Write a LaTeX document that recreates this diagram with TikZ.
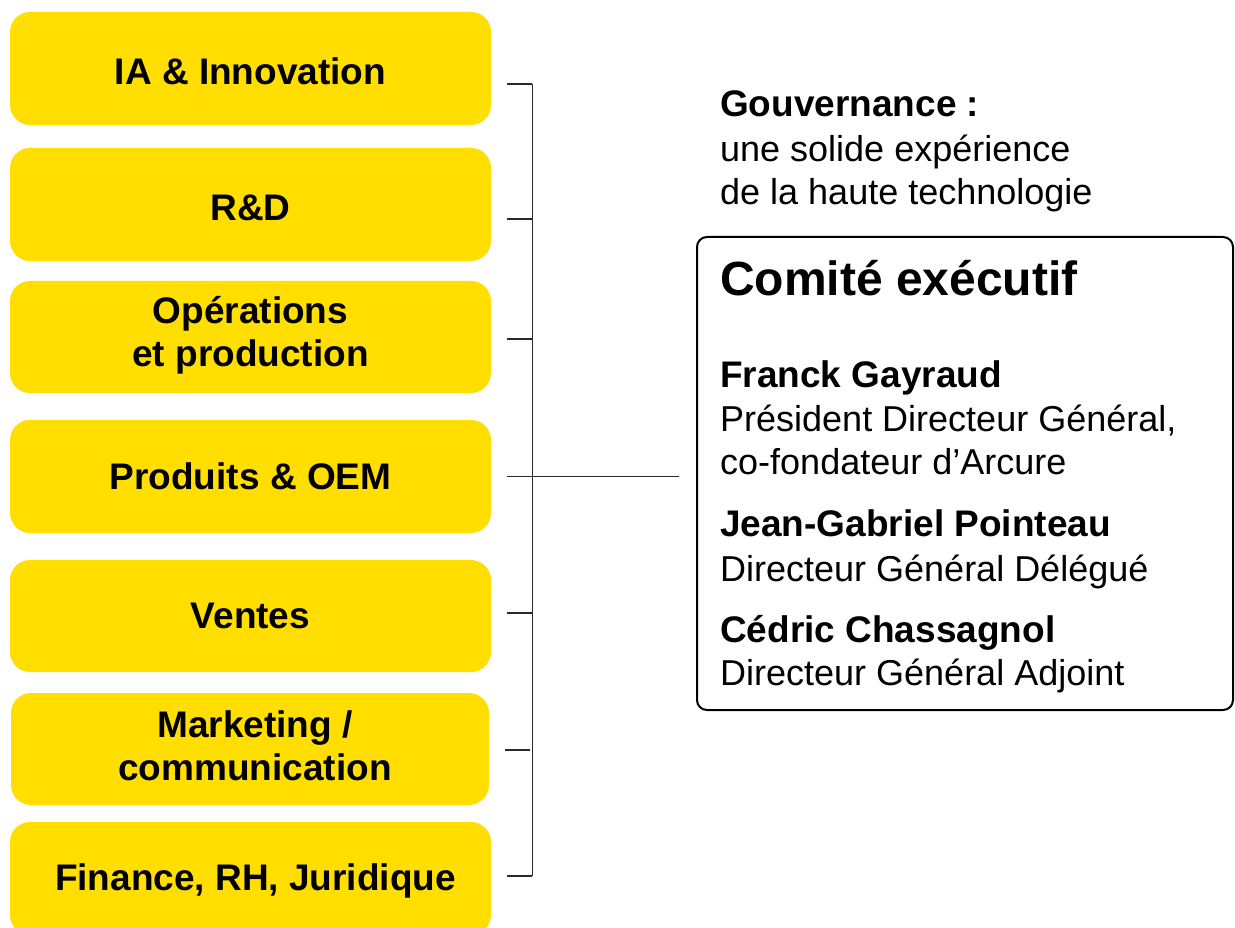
\documentclass[tikz,border=0pt]{standalone}
\usepackage{fontspec}
\setmainfont{Liberation Sans}
\definecolor{ybox}{HTML}{FFDE00}
\definecolor{lineg}{HTML}{2A2A2A}
\newcommand{\mvtxt}[3]{\raisebox{#1}[\height][\depth]{\hspace*{#2}#3}}
\begin{document}
\begin{tikzpicture}[x=1pt,y=-1pt,
  dept/.style={fill=ybox, rounded corners=20pt, minimum width=481pt, minimum height=113pt,
    inner sep=0pt, align=center, font=\fontsize{37}{43}\selectfont\bfseries},
  conn/.style={draw=lineg, line width=1.4pt},
  txt/.style={anchor=base west, inner sep=0pt, font=\fontsize{36}{43}\selectfont},
  btxt/.style={anchor=base west, inner sep=0pt, font=\fontsize{37}{43}\selectfont\bfseries},
  execbox/.style={draw=black, line width=2pt, rounded corners=10pt, minimum width=536pt,
    minimum height=473pt, inner sep=0pt}
]
\useasboundingbox (0,0) rectangle (1235,928);
\clip (0,0) rectangle (1235,928);

% departments
\node[dept] (b1) at (250.5,68.5) {\mvtxt{-3pt}{0pt}{IA \& Innovation}};
\node[dept] (b2) at (250.5,204.5) {\mvtxt{-3pt}{0pt}{R\&D}};
\node[dept, minimum height=112pt] (b3) at (250.5,337) {\mvtxt{2pt}{0pt}{Opérations}\\\mvtxt{2pt}{0pt}{et production}};
\node[dept] (b4) at (250.5,476.5) {Produits \& OEM};
\node[dept, minimum height=112pt] (b5) at (250.5,616) {Ventes};
\node[dept, minimum height=112pt, minimum width=478pt] (b6) at (250,749) {\mvtxt{3pt}{10pt}{Marketing /}\\\mvtxt{3pt}{10pt}{communication}};
\node[dept] (b7) at (250.5,878.5) {\mvtxt{-2pt}{10pt}{Finance, RH, Juridique}};

% executive committee box
\node[execbox] (exec) at (965,473.5) {};

% governance text
\node[btxt] (g1) at (720,117) {Gouvernance :};
\node[txt] (g2) at (720,162) {une solide expérience};
\node[txt] (g3) at (720,205) {de la haute technologie};

% committee text
\node[anchor=base west, inner sep=0pt, font=\fontsize{48}{56}\selectfont\bfseries] (title) at (720,295) {Comité exécutif};
\node[btxt] (n1) at (720,387) {Franck Gayraud};
\node[txt] (r1a) at (720,431) {Président Directeur Général,};
\node[txt] (r1b) at (720,474) {co-fondateur d’Arcure};
\node[btxt] (n2) at (720,536) {Jean-Gabriel Pointeau};
\node[txt] (r2) at (720,581) {Directeur Général Délégué};
\node[btxt] (n3) at (720,642) {Cédric Chassagnol};
\node[txt] (r3) at (720,685) {Directeur Général Adjoint};

% bracket
\coordinate (t1) at ([xshift=16pt,yshift=-15.5pt]b1.east);
\coordinate (t2) at ([xshift=16pt,yshift=-14.5pt]b2.east);
\coordinate (t3) at ([xshift=16pt,yshift=-2pt]b3.east);
\coordinate (t4) at ([xshift=16pt]b4.east);
\coordinate (t5) at ([xshift=16pt,yshift=3pt]b5.east);
\coordinate (t6) at ([xshift=16pt,yshift=-1pt]b6.east);
\coordinate (t7) at ([xshift=16pt,yshift=2.5pt]b7.east);
\foreach \t in {t1,t2,t3,t5,t6,t7} {
  \draw[conn] (\t) -- ++(25,0);
}
\draw[conn] ([xshift=25pt]t1) -- ([xshift=25pt]t7);
\draw[conn, shorten >=17pt] (t4) -- (t4 -| exec.west);
\end{tikzpicture}
\end{document}
